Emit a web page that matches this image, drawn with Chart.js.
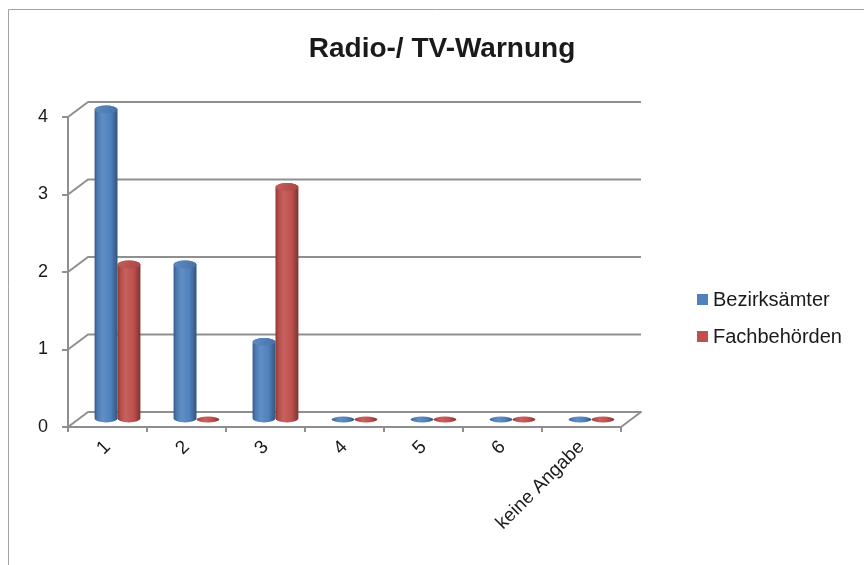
<!DOCTYPE html>
<html>
<head>
<meta charset="utf-8">
<title>Radio-/ TV-Warnung</title>
<script src="https://cdn.jsdelivr.net/npm/chart.js@4/dist/chart.umd.min.js"></script>
<style>
  html, body { margin: 0; padding: 0; background: #fff; }
  #wrap { width: 864px; height: 565px; position: relative; }
</style>
</head>
<body>
<div id="wrap"><canvas id="c" width="864" height="565"></canvas></div>
<script>
// ---- data ----
const categories = ['1', '2', '3', '4', '5', '6', 'keine Angabe'];
const bezirksaemter = [4, 2, 1, 0, 0, 0, 0];
const fachbehoerden = [2, 0, 3, 0, 0, 0, 0];
const yTickValues = [0, 1, 2, 3, 4];
const seriesLabels = ['Bezirksämter', 'Fachbehörden'];
const seriesColors = ['#4F81BD', '#C0504D'];
const chartTitle = 'Radio-/ TV-Warnung';

// ---- styling ----
const FONT = '"Liberation Sans", Arial, sans-serif';
const GRID = '#8f8f8f';
const TEXT = '#1a1a1a';
const DEPTH_X = 20;   // horizontal offset of the back wall
const DEPTH_Y = -15;  // vertical offset of the back wall

function mix(hex, amt) {
  const n = parseInt(hex.slice(1), 16);
  const c = [n >> 16, (n >> 8) & 255, n & 255];
  const t = amt < 0 ? 0 : 255, p = Math.abs(amt);
  const o = c.map(v => Math.round(v + (t - v) * p));
  return `rgb(${o[0]},${o[1]},${o[2]})`;
}

function drawCylinder(ctx, cx, top, base, w, color) {
  const rx = w / 2, ry = Math.max(2.5, w * 0.17);
  const left = cx - rx, right = cx + rx;
  const body = ctx.createLinearGradient(left, 0, right, 0);
  body.addColorStop(0, mix(color, -0.32));
  body.addColorStop(0.12, mix(color, -0.06));
  body.addColorStop(0.35, mix(color, 0.1));
  body.addColorStop(0.7, color);
  body.addColorStop(1, mix(color, -0.35));
  ctx.save();
  if (base - top < 1) {
    // zero value: only the flat disc on the floor
    ctx.beginPath();
    ctx.ellipse(cx, base, rx, ry * 0.75, 0, 0, Math.PI * 2);
    ctx.fillStyle = body;
    ctx.fill();
    ctx.restore();
    return;
  }
  ctx.beginPath();
  ctx.moveTo(left, top);
  ctx.lineTo(left, base);
  ctx.ellipse(cx, base, rx, ry, 0, Math.PI, 0, true);
  ctx.lineTo(right, top);
  ctx.ellipse(cx, top, rx, ry, 0, 0, Math.PI, true);
  ctx.closePath();
  ctx.fillStyle = body;
  ctx.fill();
  const cap = ctx.createLinearGradient(left, top - ry, right, top + ry);
  cap.addColorStop(0, mix(color, 0.08));
  cap.addColorStop(1, mix(color, -0.12));
  ctx.beginPath();
  ctx.ellipse(cx, top, rx, ry, 0, 0, Math.PI * 2);
  ctx.fillStyle = cap;
  ctx.fill();
  ctx.restore();
}

// back wall, floor and cylinder bars
const scene3d = {
  id: 'scene3d',
  beforeDraw(chart) {
    const ctx = chart.ctx;
    ctx.save();
    ctx.fillStyle = '#fff';
    ctx.fillRect(0, 0, chart.width, chart.height);
    ctx.strokeStyle = '#a3a3a3';
    ctx.lineWidth = 1;
    ctx.beginPath();
    ctx.moveTo(8.5, chart.height);
    ctx.lineTo(8.5, 9.5);
    ctx.lineTo(chart.width, 9.5);
    ctx.stroke();
    ctx.restore();
  },
  beforeDatasetsDraw(chart) {
    const { ctx, chartArea: a, scales: { y } } = chart;
    ctx.save();
    ctx.strokeStyle = GRID;
    ctx.lineWidth = 2;
    ctx.lineJoin = 'round';
    yTickValues.forEach(v => {
      const py = y.getPixelForValue(v);
      ctx.beginPath();
      ctx.moveTo(a.left, py);
      ctx.lineTo(a.left + DEPTH_X, py + DEPTH_Y);
      ctx.lineTo(a.right + DEPTH_X, py + DEPTH_Y);
      if (v === 0) ctx.lineTo(a.right, py);
      ctx.stroke();
    });
    ctx.restore();

    for (let i = 0; i < categories.length; i++) {
      chart.data.datasets.forEach((ds, di) => {
        const bar = chart.getDatasetMeta(di).data[i];
        const p = bar.getProps(['x', 'y', 'base', 'width'], true);
        drawCylinder(ctx, p.x + DEPTH_X / 2, p.y + DEPTH_Y / 2, p.base + DEPTH_Y / 2, p.width, ds.backgroundColor);
      });
    }
    return false;
  },
  afterDraw(chart) {
    const ctx = chart.ctx;
    ctx.save();
    // title
    ctx.fillStyle = TEXT;
    ctx.font = `bold 28px ${FONT}`;
    ctx.textAlign = 'center';
    ctx.textBaseline = 'middle';
    ctx.fillText(chartTitle, 442, 49);
    // legend
    ctx.font = `20px ${FONT}`;
    ctx.textAlign = 'left';
    chart.data.datasets.forEach((ds, i) => {
      const cy = 299 + i * 37;
      ctx.fillStyle = ds.backgroundColor;
      ctx.fillRect(697, cy - 5, 11, 11);
      ctx.fillStyle = TEXT;
      ctx.fillText(ds.label, 713, cy + 1);
    });
    ctx.restore();
  }
};

new Chart(document.getElementById('c'), {
  type: 'bar',
  data: {
    labels: categories,
    datasets: [
      { label: seriesLabels[0], data: bezirksaemter, backgroundColor: seriesColors[0] },
      { label: seriesLabels[1], data: fachbehoerden, backgroundColor: seriesColors[1] }
    ]
  },
  options: {
    responsive: false,
    animation: false,
    devicePixelRatio: 1,
    categoryPercentage: 0.58,
    barPercentage: 1,
    layout: { padding: { left: 0, right: 243, top: 117, bottom: 0 } },
    plugins: {
      legend: { display: false },
      title: { display: false },
      tooltip: { enabled: false }
    },
    scales: {
      x: {
        offset: true,
        grid: { offset: true, drawOnChartArea: false, tickLength: 5, color: GRID, lineWidth: 2 },
        border: { color: GRID, width: 2 },
        ticks: { autoSkip: false, minRotation: 45, maxRotation: 45, padding: 4, color: TEXT, font: { family: FONT, size: 19 } },
        afterFit(scale) { scale.height = 138; }
      },
      y: {
        min: 0,
        max: 4,
        grid: { drawOnChartArea: false, tickLength: 6, color: GRID, lineWidth: 2 },
        border: { color: GRID, width: 2 },
        ticks: { stepSize: 1, padding: 14, color: TEXT, font: { family: FONT, size: 18 } },
        afterFit(scale) { scale.width = 68; }
      }
    }
  },
  plugins: [scene3d]
});
</script>
</body>
</html>
